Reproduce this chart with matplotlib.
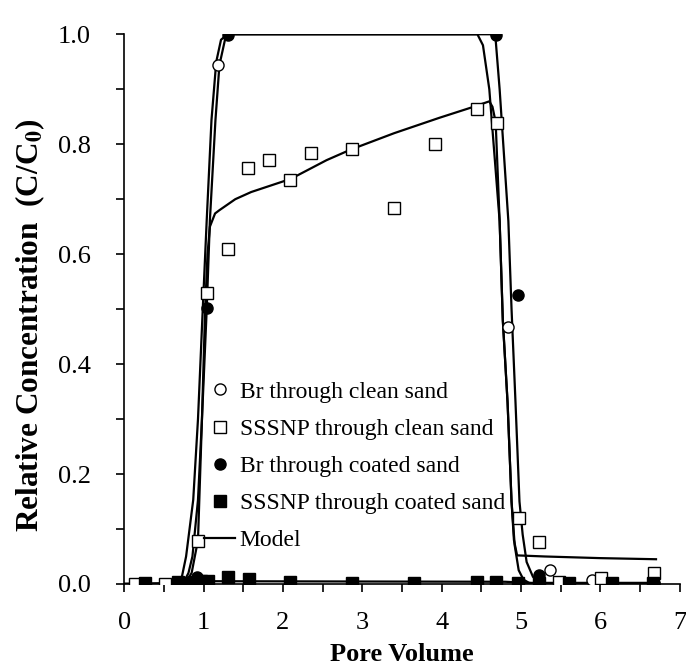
import matplotlib.pyplot as plt
from matplotlib.ticker import MultipleLocator

plt.rcParams['font.family'] = ['Liberation Serif', 'DejaVu Serif']
plt.rcParams['mathtext.fontset'] = 'stix'

# measured breakthrough data
br_clean_x = [0.26, 0.79, 0.92, 1.18, 4.84, 5.36, 5.89, 6.67]
br_clean_y = [0.0, 0.0, 0.005, 0.944, 0.467, 0.025, 0.008, 0.0]

np_clean_x = [0.14, 0.52, 0.93, 1.04, 1.31, 1.56, 1.82, 2.09, 2.35, 2.87, 3.40,
              3.91, 4.44, 4.70, 4.97, 5.22, 5.48, 6.01, 6.67]
np_clean_y = [0.0, 0.0, 0.078, 0.529, 0.61, 0.757, 0.771, 0.735, 0.784, 0.792, 0.684,
              0.801, 0.864, 0.838, 0.12, 0.076, 0.004, 0.011, 0.02]

br_coat_x = [0.26, 0.68, 0.92, 1.04, 1.31, 4.69, 4.96, 5.22, 6.67]
br_coat_y = [0.0, 0.003, 0.012, 0.502, 0.998, 0.999, 0.525, 0.016, 0.002]

np_coat_x = [0.26, 0.68, 0.79, 0.88, 0.97, 1.05, 1.31, 1.57, 2.09, 2.87, 3.65,
             4.44, 4.69, 4.96, 5.22, 5.61, 6.14, 6.66]
np_coat_y = [0.002, 0.003, 0.002, 0.004, 0.006, 0.005, 0.013, 0.009, 0.003, 0.001, 0.002,
             0.003, 0.003, 0.002, 0.002, 0.001, 0.001, 0.001]

# model curves
m_br_clean_x = [0, 0.74, 0.81, 0.86, 0.93, 0.98, 1.04, 1.08, 1.15, 1.2, 1.27, 1.37,
                4.45, 4.52, 4.6, 4.73, 4.77, 4.83, 4.88, 4.92, 4.97, 5.03, 5.1, 5.2, 6.7]
m_br_clean_y = [0, 0, 0.02, 0.05, 0.153, 0.3, 0.5, 0.662, 0.844, 0.944, 0.99, 1.0,
                1.0, 0.98, 0.9, 0.66, 0.48, 0.33, 0.15, 0.07, 0.025, 0.008, 0.002, 0, 0]

m_br_coat_x = [0, 0.68, 0.73, 0.78, 0.87, 0.93, 0.99, 1.04, 1.1, 1.16, 1.22, 1.3,
               4.62, 4.68, 4.73, 4.84, 4.88, 4.93, 4.98, 5.02, 5.07, 5.15, 5.22, 5.3, 6.7]
m_br_coat_y = [0, 0, 0.015, 0.05, 0.153, 0.3, 0.5, 0.662, 0.844, 0.95, 0.99, 1.0,
               1.0, 0.99, 0.9, 0.66, 0.5, 0.33, 0.15, 0.09, 0.04, 0.013, 0.004, 0, 0]

m_np_clean_x = [0, 0.76, 0.85, 0.93, 0.98, 1.02, 1.05, 1.08, 1.145, 1.2, 1.4, 1.6,
                2.1, 2.55, 2.85, 3.4, 3.97, 4.4, 4.6, 4.64, 4.68, 4.73, 4.77, 4.83,
                4.88, 4.91, 4.95, 5.3, 6.0, 6.7]
m_np_clean_y = [0, 0, 0.02, 0.08, 0.3, 0.5, 0.6, 0.65, 0.674, 0.68, 0.7, 0.713,
                0.737, 0.771, 0.79, 0.82, 0.848, 0.868, 0.878, 0.868, 0.84, 0.66, 0.48, 0.33,
                0.15, 0.08, 0.052, 0.05, 0.047, 0.045]

m_np_coat_x = [0, 0.7, 0.9, 1.1, 4.8, 5.1, 6.7]
m_np_coat_y = [0, 0.002, 0.005, 0.005, 0.004, 0.002, 0.002]

fig = plt.figure(figsize=(6.86, 6.72), dpi=100)
ax = fig.add_axes([0.181, 0.131, 0.81, 0.818])

lw = 1.6
for mx, my in [(m_np_coat_x, m_np_coat_y), (m_br_clean_x, m_br_clean_y),
               (m_br_coat_x, m_br_coat_y), (m_np_clean_x, m_np_clean_y)]:
    ax.plot(mx, my, color='black', lw=lw, zorder=2)

ms = 8
ax.plot(br_clean_x, br_clean_y, 'o', ms=ms, mfc='white', mec='black', mew=1.0,
        label='Br through clean sand', zorder=4)
ax.plot(np_clean_x, np_clean_y, 's', ms=ms, mfc='white', mec='black', mew=1.0,
        label='SSSNP through clean sand', zorder=4)
ax.plot(br_coat_x, br_coat_y, 'o', ms=ms, mfc='black', mec='black',
        label='Br through coated sand', zorder=5)
ax.plot(np_coat_x, np_coat_y, 's', ms=ms, mfc='black', mec='black',
        label='SSSNP through coated sand', zorder=5)
ax.plot([], [], color='black', lw=lw, label='Model')

ax.set_xlim(0, 7)
ax.set_ylim(0, 1.0)
ax.xaxis.set_major_locator(MultipleLocator(1))
ax.xaxis.set_minor_locator(MultipleLocator(0.5))
ax.yaxis.set_major_locator(MultipleLocator(0.2))
ax.yaxis.set_minor_locator(MultipleLocator(0.1))
ax.yaxis.set_major_formatter(lambda v, p: f'{v:.1f}')
ax.tick_params(which='both', direction='out', length=6, width=1.2, labelsize=19)
ax.tick_params(axis='x', pad=14)
ax.tick_params(axis='y', pad=18)
for s in ['top', 'right']:
    ax.spines[s].set_visible(False)
for s in ['left', 'bottom']:
    ax.spines[s].set_linewidth(1.2)

ax.set_xlabel('Pore Volume', fontsize=19, fontweight='bold', labelpad=7)
ax.set_ylabel('Relative Concentration  (C/C$_\\mathbf{0}$)', fontsize=22.5,
              fontweight='bold')
ax.yaxis.set_label_coords(-0.138, 0.47)

ax.legend(loc='upper left', bbox_to_anchor=(0.144, 0.369), frameon=False,
          fontsize=17, handlelength=1.3, handletextpad=0.2, labelspacing=0.66,
          borderpad=0, borderaxespad=0)

fig.savefig('out.png', dpi=100)
